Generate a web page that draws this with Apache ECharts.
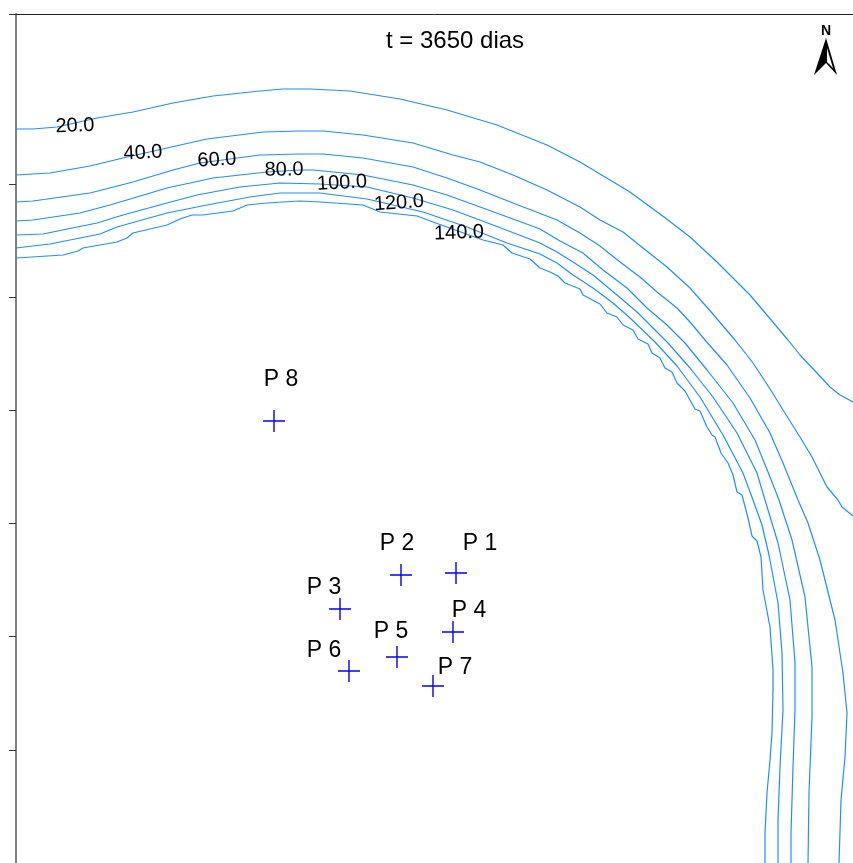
<!DOCTYPE html>
<html><head><meta charset="utf-8">
<style>html,body{margin:0;padding:0;background:#fff}#c{width:853px;height:863px}</style>
<script src="https://cdn.jsdelivr.net/npm/echarts@6/dist/echarts.min.js"></script>
</head><body><div id="c"></div>
<script>
const title = 't = 3650 dias';
const contourLevels = ['20.0','40.0','60.0','80.0','100.0','120.0','140.0'];
const contour20 = [[16,129],[33,129],[57,127],[97,118],[133,112],[173,103],[213,96],[260,91],[283,89],[310,89],[350,91],[400,99],[447,110],[497,125],[547,145],[580,162],[630,192],[668,220],[690,237],[717,262],[750,295],[788,340],[800,355],[817,373],[830,387],[840,395],[853,402]];
const contour40 = [[16,175],[50,173],[90,166],[123,158],[167,148],[207,139],[263,132],[300,131],[323,131],[363,135],[413,143],[453,155],[480,162],[513,175],[547,190],[580,207],[600,220],[623,232],[643,248],[667,267],[690,288],[712,313],[735,340],[753,363],[772,392],[783,410],[800,437],[812,457],[827,487],[838,500],[842,507],[853,516]];
const contour60 = [[16,202],[33,201],[90,193],[133,182],[173,170],[200,163],[260,155],[300,154],[323,154],[363,158],[413,167],[447,178],[480,190],[513,203],[557,220],[580,233],[600,246],[620,262],[640,277],[657,292],[677,308],[690,322],[705,340],[727,365],[750,398],[770,433],[783,463],[798,500],[808,523],[820,560],[835,620],[843,673],[847,713],[845,757],[841,800],[839,863]];
const contour80 = [[16,221],[33,220],[80,213],[110,205],[167,188],[213,178],[267,172],[300,170],[313,170],[363,175],[413,185],[447,195],[480,207],[513,219],[540,229],[560,241],[583,253],[603,270],[627,288],[647,308],[667,325],[685,343],[707,370],[733,403],[755,440],[770,477],[779,500],[792,540],[805,597],[812,667],[812,717],[809,793],[808,863]];
const contour100 = [[16,235],[43,234],[97,223],[123,215],[167,203],[197,195],[240,187],[280,183],[320,184],[367,187],[413,198],[453,210],[493,225],[540,243],[557,252],[573,262],[593,275],[617,295],[637,312],[657,332],[668,343],[690,368],[713,397],[737,433],[757,473],[765,500],[778,543],[790,600],[795,663],[795,710],[793,767],[791,833],[791,863]];
const contour120 = [[16,248],[50,244],[100,234],[117,227],[167,213],[207,205],[250,197],[280,193],[320,193],[367,199],[423,212],[467,227],[507,243],[540,254],[557,263],[573,275],[593,288],[613,303],[630,318],[655,342],[677,366],[700,397],[723,435],[743,473],[753,500],[762,525],[769,555],[778,603],[782,653],[783,710],[780,767],[778,820],[778,863]];
const contour140 = [[16,258],[63,255],[78,251],[83,248],[117,242],[127,238],[133,233],[167,225],[180,219],[192,215],[203,215],[233,211],[247,205],[267,203],[300,201],[320,202],[363,205],[380,212],[417,216],[433,222],[483,240],[503,245],[512,253],[530,259],[540,268],[550,272],[558,276],[565,283],[580,289],[583,295],[600,304],[607,313],[617,317],[623,325],[633,330],[638,339],[648,344],[652,353],[660,358],[665,368],[672,372],[677,383],[685,391],[695,409],[700,411],[707,427],[712,435],[715,437],[721,453],[728,463],[733,475],[737,492],[742,495],[748,518],[752,536],[757,541],[761,557],[763,590],[770,627],[773,670],[773,690],[772,733],[770,760],[767,793],[765,833],[765,863]];
const contourLabelPos = [[75,126],[143,153],[217,160],[284,170],[342,183],[399,203],[459,233]];
const contourLabelRot = [2,3,3,1,3,4,2];
const wellNames = ['P 1','P 2','P 3','P 4','P 5','P 6','P 7','P 8'];
const wellPos = [[456,573],[401,575],[340,609],[453,632],[397,657],[349,671],[433,686],[274,421]];
const wellLabelPos = [[480,544],[397,544],[324,588],[469,611],[391,632],[324,651],[455,668],[281,380]];
const yTicks = [14,184,297,410,523,636,750];

const contours = [contour20,contour40,contour60,contour80,contour100,contour120,contour140];
const font = '"Liberation Sans", Arial, sans-serif';
const lineSeries = contours.map((d,i)=>({
  type:'line', name:contourLevels[i], data:d, showSymbol:false, symbol:'none', silent:true,
  lineStyle:{color:'#1e8fff',width:1.2}, z:2
}));
const chart = echarts.init(document.getElementById('c'),null,{renderer:'canvas'});
chart.setOption({
  animation:false,
  backgroundColor:'#fff',
  grid:{left:16,top:14,right:0,bottom:0,containLabel:false},
  xAxis:{type:'value',position:'top',min:16,max:853,
    axisLine:{onZero:false,lineStyle:{color:'#222',width:1}},
    axisTick:{show:false},axisLabel:{show:false},splitLine:{show:false}},
  yAxis:{type:'value',inverse:true,min:14,max:863,
    axisLine:{onZero:false,lineStyle:{color:'#808080',width:2}},
    axisTick:{show:true,length:7,customValues:yTicks,lineStyle:{color:'#333',width:1}},
    axisLabel:{show:false},splitLine:{show:false}},
  series:[
    ...lineSeries,
    {type:'scatter',name:'pozos',silent:true,z:3,
     data:wellPos,symbol:'path://M0 10.3H22V11.7H0Z M10.3 0H11.7V22H10.3Z',symbolSize:22,
     itemStyle:{color:'#0000ff',opacity:1}},
    {type:'scatter',name:'pozoLabels',silent:true,z:4,symbolSize:0,itemStyle:{opacity:1},
     data:wellLabelPos.map((p,i)=>({value:p,name:wellNames[i]})),
     label:{show:true,position:'inside',formatter:p=>p.name,fontFamily:font,fontSize:23,color:'#000',opacity:1}},
    {type:'scatter',name:'contourLabels',silent:true,z:5,symbolSize:0,itemStyle:{opacity:1},
     data:contourLabelPos.map((p,i)=>({value:p,name:contourLevels[i],
        label:{rotate:contourLabelRot[i]}})),
     label:{show:true,position:'inside',formatter:p=>p.name,fontFamily:font,fontSize:20,color:'#000',opacity:1}}
  ],
  graphic:[
    {type:'text',left:386,top:29,style:{text:title,font:'24px '+font,fill:'#000'}},
    {type:'text',left:821,top:24,style:{text:'N',font:'bold 14px '+font,fill:'#000'}},
    {type:'polygon',shape:{points:[[826,38],[837,75],[826,63],[814,75]]},style:{fill:'#000'}},
    {type:'polygon',shape:{points:[[827,48],[833,68],[827,62]]},style:{fill:'#fff'}}
  ]
});
</script></body></html>
